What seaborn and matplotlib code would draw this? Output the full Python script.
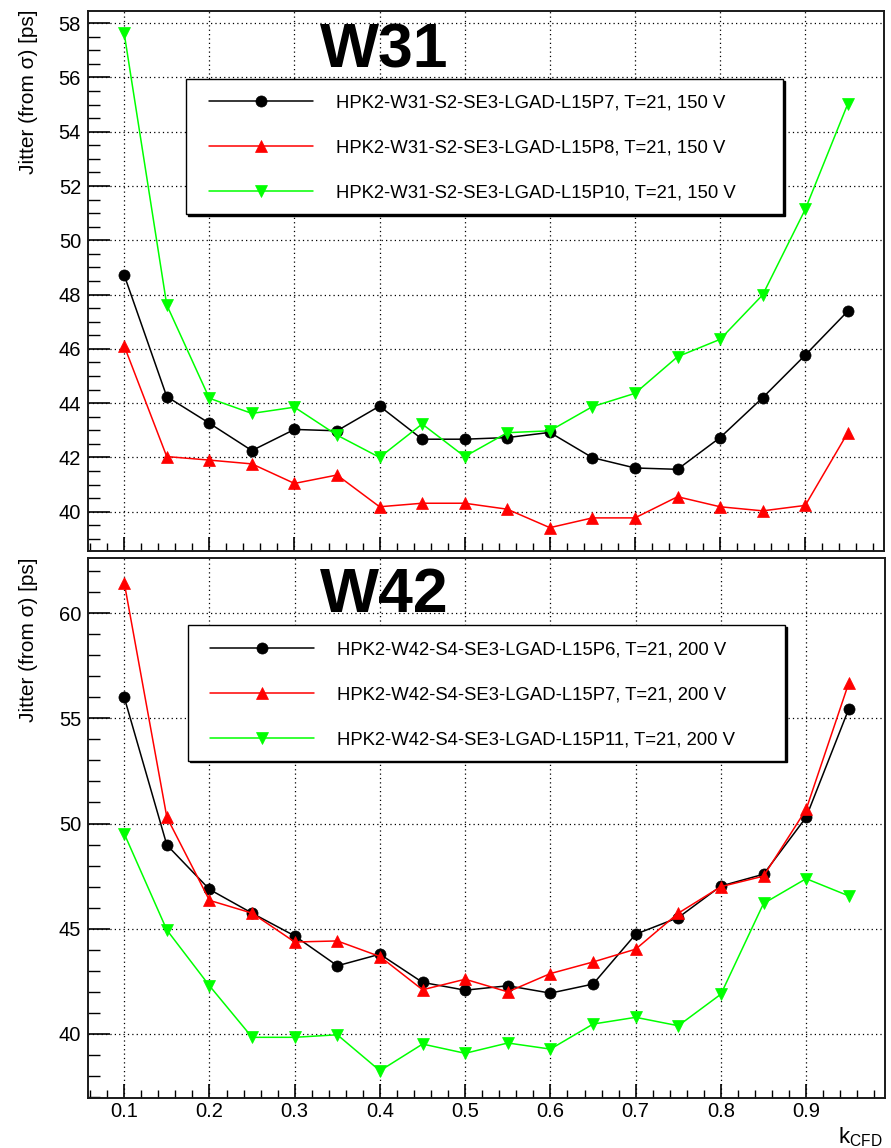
import matplotlib
matplotlib.use("Agg")
import matplotlib.pyplot as plt
import matplotlib.transforms as mtransforms
from matplotlib.patches import Rectangle
from matplotlib.ticker import MultipleLocator
import seaborn as sns
import pandas as pd

# CFD fraction scan points
k_cfd = [0.10, 0.15, 0.20, 0.25, 0.30, 0.35, 0.40, 0.45, 0.50,
         0.55, 0.60, 0.65, 0.70, 0.75, 0.80, 0.85, 0.90, 0.95]

# Wafer W31, 150 V
w31_labels = ["HPK2-W31-S2-SE3-LGAD-L15P7, T=21, 150 V",
              "HPK2-W31-S2-SE3-LGAD-L15P8, T=21, 150 V",
              "HPK2-W31-S2-SE3-LGAD-L15P10, T=21, 150 V"]
w31_p7 = [48.72, 44.24, 43.26, 42.25, 43.03, 42.98, 43.89, 42.67, 42.67,
          42.73, 42.92, 41.99, 41.61, 41.56, 42.73, 44.20, 45.77, 47.39]
w31_p8 = [46.11, 42.03, 41.90, 41.76, 41.04, 41.35, 40.18, 40.31, 40.31,
          40.09, 39.41, 39.77, 39.77, 40.55, 40.18, 40.03, 40.23, 42.91]
w31_p10 = [57.63, 47.62, 44.18, 43.62, 43.85, 42.82, 42.00, 43.23, 42.03,
           42.91, 42.98, 43.87, 44.36, 45.71, 46.35, 47.99, 51.14, 55.03]

# Wafer W42, 200 V
w42_labels = ["HPK2-W42-S4-SE3-LGAD-L15P6, T=21, 200 V",
              "HPK2-W42-S4-SE3-LGAD-L15P7, T=21, 200 V",
              "HPK2-W42-S4-SE3-LGAD-L15P11, T=21, 200 V"]
w42_p6 = [56.00, 48.98, 46.87, 45.74, 44.66, 43.24, 43.79, 42.45, 42.08,
          42.29, 41.94, 42.37, 44.74, 45.53, 47.03, 47.59, 50.30, 55.45]
w42_p7 = [61.45, 50.30, 46.35, 45.74, 44.37, 44.42, 43.68, 42.10, 42.60,
          42.00, 42.87, 43.42, 44.03, 45.74, 47.00, 47.50, 50.67, 56.68]
w42_p11 = [49.52, 44.94, 42.29, 39.84, 39.84, 39.96, 38.25, 39.52, 39.08,
           39.57, 39.28, 40.47, 40.79, 40.39, 41.89, 46.20, 47.38, 46.56]

series_colors = ["#000000", "#ff0000", "#00ff00"]
series_markers = ["o", "^", "v"]

sns.set_style("white")
plt.rcParams["font.family"] = ["Liberation Sans", "DejaVu Sans"]
plt.rcParams["mathtext.fontset"] = "custom"
plt.rcParams["mathtext.rm"] = "Liberation Sans"
plt.rcParams["mathtext.it"] = "Liberation Sans:italic"
for key in ("text.color", "axes.labelcolor", "xtick.color", "ytick.color"):
    plt.rcParams[key] = "black"

W, H = 891, 1148
fig = plt.figure(figsize=(W / 100, H / 100), dpi=100)
fig.patch.set_facecolor("white")

ax1 = fig.add_axes([88 / W, 1 - 551 / H, 796 / W, 540 / H])
ax2 = fig.add_axes([88 / W, 1 - 1097.7 / H, 797 / W, 539.7 / H])


def draw_panel(ax, values, labels, ylim, ymajor, yminor, leg_anchor, box):
    for vals, lab, col, mk in zip(values, labels, series_colors, series_markers):
        df = pd.DataFrame({"k": k_cfd, "jitter": vals})
        sns.lineplot(data=df, x="k", y="jitter", ax=ax, color=col, lw=1.1,
                     marker=mk, markersize=8, markeredgecolor=col,
                     markeredgewidth=0.5, label=lab, zorder=2)
    ax.set_xlim(0.0575, 0.9925)
    ax.set_ylim(*ylim)
    ax.xaxis.set_major_locator(MultipleLocator(0.1))
    ax.xaxis.set_minor_locator(MultipleLocator(0.02))
    ax.yaxis.set_major_locator(MultipleLocator(ymajor))
    ax.yaxis.set_minor_locator(MultipleLocator(yminor))
    ax.set_axisbelow(True)
    ax.grid(True, which="major", color="black", lw=0.9, linestyle=(0, (1, 2.5)))
    ax.tick_params(axis="y", which="major", direction="in", length=16, width=1.2,
                   labelsize=14.5, pad=5, left=True)
    ax.tick_params(axis="y", which="minor", direction="in", length=8.6, width=1.0, left=True)
    ax.tick_params(axis="x", which="major", direction="in", length=10, width=1.2,
                   labelsize=14.5, pad=3, bottom=True)
    ax.tick_params(axis="x", which="minor", direction="in", length=5.5, width=1.0, bottom=True)
    ax.tick_params(top=False, right=False, which="both")
    for sp in ax.spines.values():
        sp.set_visible(True)
        sp.set_color("#1a1a1a")
        sp.set_linewidth(1.4)
    ax.set_xlabel("")
    ax.set_ylabel("")

    # legend frame with a small drop shadow
    x0, y0, w, h = box
    shadow_tr = mtransforms.offset_copy(ax.transAxes, fig=fig, x=1.6, y=-1.6, units="dots")
    ax.add_patch(Rectangle((x0, y0), w, h, transform=shadow_tr, facecolor="black",
                           edgecolor="black", lw=1.0, zorder=3))
    ax.add_patch(Rectangle((x0, y0), w, h, transform=ax.transAxes, facecolor="white",
                           edgecolor="black", lw=1.0, zorder=3.1))
    leg = ax.legend(loc="center left", bbox_to_anchor=leg_anchor, frameon=False,
                    fontsize=13.3, handlelength=5.62, handletextpad=1.24,
                    labelspacing=1.53, borderpad=0, borderaxespad=0, numpoints=1)
    leg.set_zorder(5)


draw_panel(ax1, [w31_p7, w31_p8, w31_p10], w31_labels, (38.55, 58.45), 2, 0.5,
           (0.152, 0.746), (0.1231, 0.624, 0.7500, 0.250))
draw_panel(ax2, [w42_p6, w42_p7, w42_p11], w42_labels, (36.97, 62.62), 5, 1,
           (0.1536, 0.746), (0.1255, 0.6244, 0.7490, 0.2515))
ax1.tick_params(labelbottom=False)

# axis titles
ylab = "Jitter (from \u03c3) [ps]"
fig.text(29 / W, 1 - 10 / H, ylab, rotation=90, ha="center", va="top", fontsize=15)
fig.text(29 / W, 1 - 557 / H, ylab, rotation=90, ha="center", va="top", fontsize=15)
fig.text(883 / W, 1 - 1143 / H, r"k$_{\mathrm{CFD}}$", ha="right", va="baseline", fontsize=16)

# wafer tags
fig.text(320 / W, 1 - 67 / H, "W31", ha="left", va="baseline", fontsize=45,
         fontweight="bold", color="black", zorder=10)
fig.text(320 / W, 1 - 611.7 / H, "W42", ha="left", va="baseline", fontsize=45,
         fontweight="bold", color="black", zorder=10)

fig.savefig("out.png", dpi=100, facecolor="white")
